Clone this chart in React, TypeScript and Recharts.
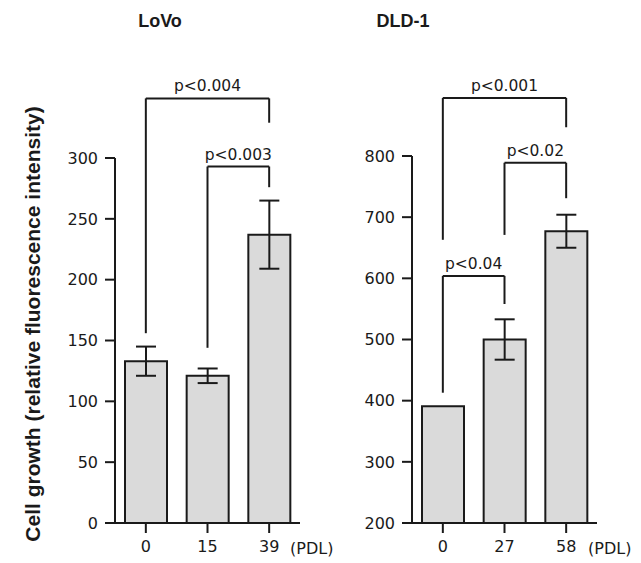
import React from "react";
import { BarChart, Bar, XAxis, YAxis, ErrorBar, ReferenceLine } from "recharts";

// LoVo panel
const lovoPdl = ["0", "15", "39"];
const lovoMean = [133, 121, 237];
const lovoErr = [12, 6, 28];
const lovoTicks = [0, 50, 100, 150, 200, 250, 300];

// DLD-1 panel
const dldPdl = ["0", "27", "58"];
const dldMean = [391, 500, 677];
const dldErr = [0, 33, 27];
const dldTicks = [200, 300, 400, 500, 600, 700, 800];

// significance brackets: [from, to, top, fromEnd, toEnd, label]
const lovoBrackets: [string, string, number, number, number, string][] = [
  ["0", "39", 349, 156, 329, "p<0.004"],
  ["15", "39", 293, 144, 276, "p<0.003"],
];
const dldBrackets: [string, string, number, number, number, string][] = [
  ["0", "58", 895, 663, 847, "p<0.001"],
  ["27", "58", 789, 671, 731, "p<0.02"],
  ["0", "27", 604, 413, 558, "p<0.04"],
];

const INK = "#1a1a1a";
const tickFont = { fontSize: 16, fill: INK, fontFamily: "DejaVu Sans" };

const bracketLines = (brackets: typeof lovoBrackets) =>
  brackets.flatMap(([from, to, top, fromEnd, toEnd, label], i) => [
    <ReferenceLine
      key={`h${i}`}
      segment={[{ x: from, y: top }, { x: to, y: top }]}
      ifOverflow="visible"
      stroke={INK}
      strokeWidth={2}
      label={{
        value: label,
        position: "top",
        offset: 7,
        fill: INK,
        fontSize: 15.5,
        fontFamily: "DejaVu Sans",
      }}
    />,
    <ReferenceLine
      key={`l${i}`}
      segment={[{ x: from, y: top }, { x: from, y: fromEnd }]}
      ifOverflow="visible"
      stroke={INK}
      strokeWidth={2}
    />,
    <ReferenceLine
      key={`r${i}`}
      segment={[{ x: to, y: top }, { x: to, y: toEnd }]}
      ifOverflow="visible"
      stroke={INK}
      strokeWidth={2}
    />,
  ]);

interface PanelProps {
  pdl: string[];
  mean: number[];
  err: number[];
  ticks: number[];
  brackets: typeof lovoBrackets;
  width: number;
  margin: { top: number; right: number; bottom: number; left: number };
}

const Panel: React.FC<PanelProps> = ({ pdl, mean, err, ticks, brackets, width, margin }) => {
  const data = pdl.map((p, i) => ({ pdl: p, mean: mean[i], err: err[i] }));
  return (
    <BarChart width={width} height={563} data={data} margin={margin} barSize={42}>
      <XAxis
        dataKey="pdl"
        interval={0}
        height={40}
        tick={tickFont}
        tickSize={10}
        tickMargin={8}
        stroke={INK}
        axisLine={{ stroke: INK, strokeWidth: 2 }}
        tickLine={{ stroke: INK, strokeWidth: 2 }}
      />
      <YAxis
        width={60}
        domain={[ticks[0], ticks[ticks.length - 1]]}
        ticks={ticks}
        interval={0}
        tick={tickFont}
        tickSize={10}
        tickMargin={7}
        stroke={INK}
        axisLine={{ stroke: INK, strokeWidth: 2 }}
        tickLine={{ stroke: INK, strokeWidth: 2 }}
      />
      <Bar dataKey="mean" fill="#dadada" stroke={INK} strokeWidth={2} isAnimationActive={false}>
        <ErrorBar dataKey="err" width={10} stroke={INK} strokeWidth={2} isAnimationActive={false} />
      </Bar>
      {bracketLines(brackets)}
    </BarChart>
  );
};

const titleStyle: React.CSSProperties = {
  position: "absolute",
  top: 11,
  width: 120,
  textAlign: "center",
  fontFamily: "Liberation Sans, Arial, sans-serif",
  fontWeight: "bold",
  fontSize: 18,
  lineHeight: "20px",
  color: INK,
};

const pdlStyle: React.CSSProperties = {
  position: "absolute",
  top: 540,
  fontFamily: "DejaVu Sans",
  fontSize: 16,
  lineHeight: "18px",
  color: INK,
};

export default function App() {
  return (
    <div style={{ position: "absolute", left: 0, top: 0, width: 641, height: 563, background: "#fff" }}>
      <div style={{ position: "absolute", left: 0, top: 0 }}>
        <Panel
          pdl={lovoPdl}
          mean={lovoMean}
          err={lovoErr}
          ticks={lovoTicks}
          brackets={lovoBrackets}
          width={320}
          margin={{ top: 158, right: 20, bottom: 0, left: 55 }}
        />
      </div>
      <div style={{ position: "absolute", left: 320, top: 0 }}>
        <Panel
          pdl={dldPdl}
          mean={dldMean}
          err={dldErr}
          ticks={dldTicks}
          brackets={dldBrackets}
          width={321}
          margin={{ top: 156, right: 44, bottom: 0, left: 32 }}
        />
      </div>
      <div style={{ ...titleStyle, left: 100 }}>LoVo</div>
      <div style={{ ...titleStyle, left: 343 }}>DLD-1</div>
      <div style={{ ...pdlStyle, left: 290 }}>(PDL)</div>
      <div style={{ ...pdlStyle, left: 588 }}>(PDL)</div>
      <div
        style={{
          position: "absolute",
          left: 33,
          top: 324,
          transform: "translate(-50%, -50%) rotate(-90deg)",
          whiteSpace: "nowrap",
          fontFamily: "Liberation Sans, Arial, sans-serif",
          fontWeight: "bold",
          fontSize: 21,
          color: INK,
        }}
      >
        Cell growth (relative fluorescence intensity)
      </div>
    </div>
  );
}
